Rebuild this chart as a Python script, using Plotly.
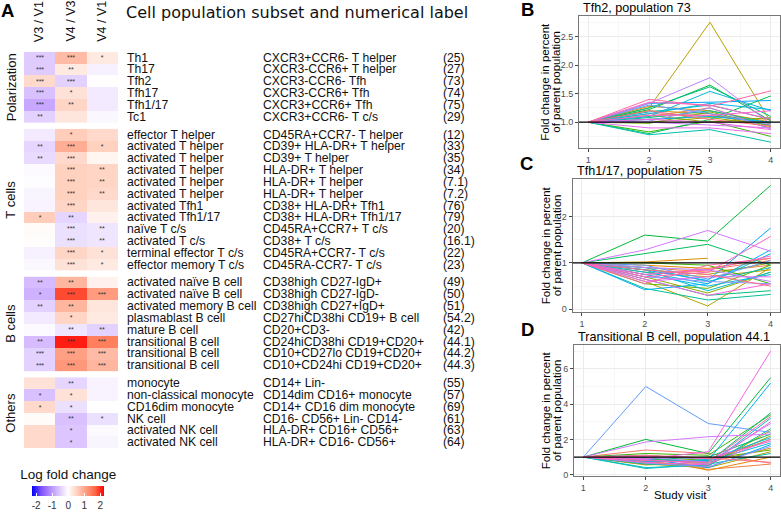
import math
import plotly.graph_objects as go

W, H = 781, 514

# ---------------- heatmap data ----------------
COLUMNS = ["V3 / V1", "V4 / V3", "V4 / V1"]
GROUPS = ["Polarization", "T cells", "B cells", "Others"]

POL_NAMES = ["Th1", "Th17", "Tfh2", "Tfh17", "Tfh1/17", "Tc1"]
POL_MARKERS = ["CXCR3+CCR6- T helper", "CXCR3-CCR6+ T helper", "CXCR3-CCR6- Tfh",
               "CXCR3-CCR6+ Tfh", "CXCR3+CCR6+ Tfh", "CXCR3+CCR6- T c/s"]
POL_IDS = ["(25)", "(27)", "(73)", "(74)", "(75)", "(29)"]
POL_LFC = [[-0.50, 0.80, 0.25], [-0.50, 0.25, -0.15], [0.45, -0.45, 0.02],
           [-0.60, 0.35, -0.20], [-0.85, 0.50, -0.20], [-0.45, 0.30, -0.08]]
POL_STARS = [["***", "***", "*"], ["***", "**", ""], ["***", "***", ""],
             ["***", "*", ""], ["***", "**", ""], ["**", "", ""]]

T_NAMES = ["effector T helper", "activated T helper", "activated T helper",
           "activated T helper", "activated T helper", "activated T helper",
           "activated Tfh1", "activated Tfh1/17", "naïve T c/s", "activated T c/s",
           "terminal effector T c/s", "effector memory T c/s"]
T_MARKERS = ["CD45RA+CCR7- T helper", "CD39+ HLA-DR+ T helper", "CD39+ T helper",
             "HLA-DR+ T helper", "HLA-DR+ T helper", "HLA-DR+ T helper",
             "CD38+ HLA-DR+ Tfh1", "CD38+ HLA-DR+ Tfh1/17", "CD45RA+CCR7+ T c/s",
             "CD38+ T c/s", "CD45RA+CCR7- T c/s", "CD45RA-CCR7- T c/s"]
T_IDS = ["(12)", "(33)", "(35)", "(34)", "(7.1)", "(7.2)", "(76)", "(79)",
         "(20)", "(16.1)", "(22)", "(23)"]
T_LFC = [[-0.20, 0.60, 0.45], [-0.40, 0.95, 0.55], [-0.35, 0.45, 0.12],
         [-0.05, 0.55, 0.50], [-0.03, 0.55, 0.50], [-0.10, 0.55, 0.45],
         [-0.12, 0.50, 0.30], [0.60, -0.40, 0.15], [0.05, -0.30, -0.25],
         [0.03, -0.30, -0.25], [-0.15, 0.50, 0.35], [-0.08, 0.35, 0.25]]
T_STARS = [["", "*", ""], ["**", "***", "*"], ["**", "***", ""],
           ["", "***", "**"], ["", "***", "**"], ["", "***", "**"],
           ["", "***", ""], ["*", "**", ""], ["", "***", "**"],
           ["", "***", "**"], ["", "***", "*"], ["", "***", "*"]]

B_NAMES = ["activated naïve B cell", "activated naïve B cell", "activated memory B cell",
           "plasmablast B cell", "mature B cell", "transitional B cell",
           "transitional B cell", "transitional B cell"]
B_MARKERS = ["CD38high CD27-IgD+", "CD38high CD27-IgD-", "CD38high CD27+IgD+",
             "CD27hiCD38hi CD19+ B cell", "CD20+CD3-", "CD24hiCD38hi CD19+CD20+",
             "CD10+CD27lo CD19+CD20+", "CD10+CD24hi CD19+CD20+"]
B_IDS = ["(49)", "(50)", "(51)", "(54.2)", "(42)", "(44.1)", "(44.2)", "(44.3)"]
B_LFC = [[-0.65, 0.85, 0.15], [-0.75, 1.85, 1.15], [-0.45, 0.85, 0.30],
         [-0.20, 0.50, 0.25], [-0.05, -0.25, -0.45], [-0.65, 2.10, 1.45],
         [-0.45, 1.10, 0.80], [-0.45, 1.20, 0.85]]
B_STARS = [["**", "**", ""], ["*", "***", "***"], ["**", "**", ""],
           ["", "*", ""], ["", "**", "**"], ["**", "***", "***"],
           ["***", "***", "***"], ["***", "***", "***"]]

O_NAMES = ["monocyte", "non-classical monocyte", "CD16dim monocyte", "NK cell",
           "activated NK cell", "activated NK cell"]
O_MARKERS = ["CD14+ Lin-", "CD14dim CD16+ monocyte", "CD14+ CD16 dim monocyte",
             "CD16- CD56+ Lin- CD14-", "HLA-DR+ CD16+ CD56+", "HLA-DR+ CD16- CD56+"]
O_IDS = ["(55)", "(57)", "(69)", "(61)", "(63)", "(64)"]
O_LFC = [[0.35, -0.40, -0.12], [-0.60, 0.35, -0.12], [0.45, -0.30, 0.0],
         [0.05, -0.60, -0.30], [0.45, -0.55, -0.05], [0.45, -0.55, -0.10]]
O_STARS = [["", "**", ""], ["*", "*", ""], ["*", "*", ""],
           ["", "**", "*"], ["", "*", ""], ["", "*", ""]]

COLORBAR_TICKS = [-2, -1, 0, 1, 2]
COLOR_LIMITS = [-2.25, 2.25]

# ---------------- line panel data (fold change, visits 1-4) ----------------
VISITS = [1, 2, 3, 4]
REF_LEVEL = 1.0

TFH2_73 = [
    [1, 1.15, 1.12, 0.97], [1, 1.10, 1.25, 0.92], [1, 1.28, 1.20, 1.00], [1, 1.05, 1.10, 1.05],
    [1, 1.20, 1.15, 0.90], [1, 1.25, 2.75, 1.00], [1, 1.00, 1.08, 0.95], [1, 1.12, 1.00, 1.08],
    [1, 0.98, 1.18, 0.93], [1, 0.83, 1.02, 0.75], [1, 1.22, 1.65, 1.02], [1, 0.80, 1.05, 1.46],
    [1, 1.25, 1.62, 1.10], [1, 1.08, 1.20, 0.98], [1, 0.78, 0.87, 0.65], [1, 1.18, 1.30, 1.05],
    [1, 1.10, 1.54, 1.20], [1, 1.15, 1.33, 1.22], [1, 1.05, 1.10, 1.00], [1, 1.33, 1.35, 1.38],
    [1, 1.30, 1.15, 0.95], [1, 1.02, 1.25, 0.88], [1, 1.33, 1.78, 0.97], [1, 1.00, 0.95, 0.90],
    [1, 0.90, 0.90, 0.80], [1, 1.05, 1.00, 0.87], [1, 1.12, 1.12, 1.20], [1, 1.35, 1.30, 1.05],
    [1, 1.40, 1.28, 1.55], [1, 1.20, 1.05, 0.93],
]
TFH117_75 = [
    [1, 0.75, 0.85, 1.05], [1, 0.90, 0.80, 0.95], [1, 0.95, 0.88, 1.10], [1, 1.02, 1.10, None],
    [1, 0.80, 0.70, 0.85], [1, 0.60, 0.07, 0.90], [1, 0.85, 0.75, 1.00], [1, 0.70, 0.35, 0.80],
    [1, 0.55, 0.45, 0.95], [1, 1.00, 0.95, 0.55], [1, 1.60, 1.47, 2.67], [1, 1.20, 1.40, 0.95],
    [1, 0.65, 0.30, 0.40], [1, 0.45, 0.20, 0.32], [1, 0.90, 0.60, 0.90], [1, 0.85, 0.40, 0.80],
    [1, 0.80, 0.55, 1.20], [1, 0.75, 0.50, 0.75], [1, 0.42, 0.55, 1.28], [1, 0.85, 0.62, 1.75],
    [1, 0.95, 0.65, 1.05], [1, 0.70, 0.60, 0.55], [1, 0.90, 0.85, 0.60], [1, 1.28, 1.70, 1.25],
    [1, 0.60, 0.70, 0.70], [1, 0.65, 0.30, 0.55], [1, 0.75, 0.85, 1.15], [1, 0.70, 0.80, 1.57],
    [1, 0.55, 0.95, 1.10], [1, 0.85, 0.75, 0.50],
]
TRANSB_441 = [
    [1, 1.40, 1.20, 0.65], [1, 0.80, 0.30, 0.60], [1, 1.00, 0.25, 1.00], [1, 0.65, 0.50, 2.50],
    [1, 0.55, 0.70, 1.50], [1, 0.60, 0.40, 1.30], [1, 0.70, 0.80, 2.00], [1, 0.90, 0.60, 2.20],
    [1, 0.75, 0.90, 1.40], [1, 1.20, 1.10, 3.40], [1, 2.00, 1.20, 5.50], [1, 0.85, 1.00, 2.30],
    [1, 0.95, 0.70, 3.50], [1, 0.60, 0.50, 2.60], [1, 0.35, 0.60, 1.20], [1, 0.40, 0.55, 3.20],
    [1, 0.80, 0.75, 1.80], [1, 1.10, 0.85, 2.10], [1, 0.75, 0.80, 5.20], [1, 0.90, 0.40, 1.70],
    [1, 5.00, 2.90, 2.40], [1, 0.65, 0.45, 1.60], [1, 1.00, 0.70, 2.90], [1, 1.85, 2.15, 2.30],
    [1, 0.85, 0.60, 2.00], [1, 0.90, 1.30, 7.00], [1, 0.70, 0.55, 3.00], [1, 1.05, 0.90, 1.90],
    [1, 0.80, 0.70, 3.30], [1, 1.10, 0.95, 0.70],
]
PANEL_TITLES = ["Tfh2, population 73", "Tfh1/17, population 75",
                "Transitional B cell, population 44.1"]
PANEL_TICK_STEP = [0.5, 1, 2]

# ---------------- helpers ----------------
def px(xp):
    return xp / W

def py(yp):
    return 1 - yp / H

def hcl_hex(h, c=100, l=65):
    Xn, Yn, Zn = 0.95047, 1.0, 1.08883
    un = 4 * Xn / (Xn + 15 * Yn + 3 * Zn)
    vn = 9 * Yn / (Xn + 15 * Yn + 3 * Zn)
    Y = ((l + 16) / 116) ** 3
    hr = math.radians(h)
    u, v = c * math.cos(hr), c * math.sin(hr)
    up = u / (13 * l) + un
    vp = v / (13 * l) + vn
    X = Y * 9 * up / (4 * vp)
    Z = Y * (12 - 3 * up - 20 * vp) / (4 * vp)
    rgb = [3.2406 * X - 1.5372 * Y - 0.4986 * Z,
           -0.9689 * X + 1.8758 * Y + 0.0415 * Z,
           0.0557 * X - 0.2040 * Y + 1.0570 * Z]
    out = []
    for ch in rgb:
        ch = 12.92 * ch if ch <= 0.0031308 else 1.055 * ch ** (1 / 2.4) - 0.055
        out.append(int(round(max(0, min(1, ch)) * 255)))
    return "#%02X%02X%02X" % tuple(out)

COLORSCALE = [[0.0, "#0000FF"], [0.125, "#7E51FF"], [0.25, "#B38BFF"], [0.375, "#DCC5FF"],
              [0.5, "#FFFFFF"], [0.625, "#FFD0BE"], [0.75, "#FF9E82"], [0.875, "#FF6846"],
              [1.0, "#FF0000"]]

LABEL_FONT = "Liberation Sans, Arial, sans-serif"
fig = go.Figure()
annotations = []
shapes = []
layout = dict()

# ---------------- heatmap blocks ----------------
blocks = [(POL_NAMES, POL_MARKERS, POL_IDS, POL_LFC, POL_STARS),
          (T_NAMES, T_MARKERS, T_IDS, T_LFC, T_STARS),
          (B_NAMES, B_MARKERS, B_IDS, B_LFC, B_STARS),
          (O_NAMES, O_MARKERS, O_IDS, O_LFC, O_STARS)]
HM_LEFT, HM_RIGHT = 24, 118
HM_TOP, ROW_H, GAP = 53, 12.1, 6.2

layout["xaxis"] = dict(domain=[px(HM_LEFT), px(HM_RIGHT)], range=[-0.5, 2.5],
                       visible=False, anchor="y", fixedrange=True)
top = HM_TOP
for bi, (names, markers, ids, lfc, stars) in enumerate(blocks):
    n = len(names)
    bottom = top + n * ROW_H
    yname = "yaxis" if bi == 0 else "yaxis%d" % (bi + 1)
    yref = "y" if bi == 0 else "y%d" % (bi + 1)
    layout[yname] = dict(domain=[py(bottom), py(top)], range=[n - 0.5, -0.5],
                         visible=False, anchor="x", fixedrange=True)
    trace = go.Heatmap(
        z=lfc, x=list(range(len(COLUMNS))), y=list(range(n)),
        text=stars, texttemplate="%{text}",
        textfont=dict(size=7, color="#333333", family=LABEL_FONT),
        colorscale=COLORSCALE, zmin=COLOR_LIMITS[0], zmax=COLOR_LIMITS[1],
        showscale=(bi == 0), xaxis="x", yaxis=yref, hoverinfo="skip",
    )
    if bi == 0:
        trace.colorbar = dict(
            orientation="h", x=px(68.2), xanchor="center", y=py(482.5), yanchor="top",
            lenmode="pixels", len=72, thicknessmode="pixels", thickness=10,
            xpad=0, ypad=0, outlinewidth=0,
            tickvals=COLORBAR_TICKS, ticktext=[str(t) for t in COLORBAR_TICKS],
            ticks="inside", ticklen=3, tickcolor="white", tickwidth=1,
            tickfont=dict(size=10, color="#333333", family=LABEL_FONT),
            title=dict(text="Log fold change", side="top",
                       font=dict(size=13.5, color="#111111", family=LABEL_FONT)),
        )
    fig.add_trace(trace)
    for ri in range(n):
        for col_x, txt in ((126, names[ri]), (262, markers[ri]), (442, ids[ri])):
            annotations.append(dict(x=px(col_x), xref="paper", y=ri, yref=yref,
                                    text=txt, showarrow=False, xanchor="left",
                                    yanchor="middle", borderpad=0,
                                    font=dict(size=12.2, color="#111111", family=LABEL_FONT)))
    annotations.append(dict(x=px(11), xref="paper", y=py((top + bottom) / 2), yref="paper",
                            text=GROUPS[bi], textangle=-90, showarrow=False,
                            xanchor="center", yanchor="middle", borderpad=0,
                            font=dict(size=13, color="#111111", family=LABEL_FONT)))
    top = bottom + GAP

for ci, col in enumerate(COLUMNS):
    annotations.append(dict(x=ci, xref="x", y=py(44), yref="paper", text=col,
                            textangle=-90, showarrow=False, xanchor="center",
                            yanchor="bottom", borderpad=0,
                            font=dict(size=12.5, color="#111111", family=LABEL_FONT)))

annotations.append(dict(x=px(124), xref="paper", y=py(12.5), yref="paper",
                        text="Cell population subset and numerical label",
                        showarrow=False, xanchor="left", yanchor="middle",
                        font=dict(size=16, color="#111111", family="DejaVu Sans")))

# panel letters
for letter, cx, cy in (("A", 7.5, 10.5), ("B", 527.5, 10), ("C", 526.5, 167.5), ("D", 527.5, 337.5)):
    annotations.append(dict(x=px(cx), xref="paper", y=py(cy), yref="paper",
                            text="<b>%s</b>" % letter, showarrow=False,
                            xanchor="center", yanchor="middle", borderpad=0,
                            font=dict(size=18.5, color="#000000", family=LABEL_FONT)))

# ---------------- line panels ----------------
N_SUBJ = len(TFH2_73)
PALETTE = [hcl_hex(15 + 360 * i / N_SUBJ) for i in range(N_SUBJ)]
panels = [(TFH2_73, 579, 16.7, 151.7), (TFH117_75, 572.5, 183.7, 319.5),
          (TRANSB_441, 574, 353.5, 487.6)]
for pi, (data, left, ptop, pbottom) in enumerate(panels):
    k = 5 + pi
    xa, ya = "x%d" % k, "y%d" % k
    for si, series in enumerate(data):
        fig.add_trace(go.Scatter(x=VISITS, y=series, mode="lines",
                                 line=dict(color=PALETTE[si], width=1),
                                 xaxis=xa, yaxis=ya, hoverinfo="skip",
                                 connectgaps=False, showlegend=False))
    vals = [v for s in data for v in s if v is not None]
    vmin, vmax = min(vals), max(vals)
    pad = 0.05 * (vmax - vmin)
    step = PANEL_TICK_STEP[pi]
    axis_common = dict(showgrid=True, gridcolor="#EBEBEB", gridwidth=1, zeroline=False,
                       showline=True, mirror=True, linecolor="#777777", linewidth=1,
                       ticks="outside", ticklen=3, tickcolor="#444444", tickwidth=1,
                       tickfont=dict(size=9, color="#4D4D4D", family=LABEL_FONT),
                       fixedrange=True)
    layout["xaxis%d" % k] = dict(domain=[px(left), px(780)], range=[0.85, 4.15],
                                 tickvals=VISITS, anchor=ya,
                                 minor=dict(tickvals=[1.5, 2.5, 3.5], showgrid=True,
                                            gridcolor="#F2F2F2", gridwidth=0.6, ticks=""),
                                 **axis_common)
    layout["yaxis%d" % k] = dict(domain=[py(pbottom), py(ptop)],
                                 range=[vmin - pad, vmax + pad], dtick=step, tick0=0,
                                 tickformat=".1f" if step < 1 else "d", anchor=xa,
                                 minor=dict(dtick=step / 2, tick0=0, showgrid=True,
                                            gridcolor="#F2F2F2", gridwidth=0.6, ticks=""),
                                 **axis_common)
    shapes.append(dict(type="line", xref="%s domain" % xa, x0=0, x1=1, yref=ya,
                       y0=REF_LEVEL, y1=REF_LEVEL, line=dict(color="black", width=1.3),
                       layer="above"))
    annotations.append(dict(x=px(left + 3), xref="paper", y=py(ptop - 8.5), yref="paper",
                            text=PANEL_TITLES[pi], showarrow=False, xanchor="left",
                            yanchor="middle", borderpad=0,
                            font=dict(size=12.6, color="#000000", family=LABEL_FONT)))
    for line_txt, cx in (("Fold change in percent", 545.5), ("of parent population", 556.5)):
        annotations.append(dict(x=px(cx), xref="paper", y=0.5, yref="%s domain" % ya,
                                text=line_txt, textangle=-90, showarrow=False,
                                xanchor="center", yanchor="middle", borderpad=0,
                                font=dict(size=11.5, color="#000000", family=LABEL_FONT)))

annotations.append(dict(x=px(680), xref="paper", y=py(506.5), yref="paper",
                        text="Study visit", showarrow=False, xanchor="center",
                        yanchor="middle", borderpad=0,
                        font=dict(size=11.5, color="#000000", family=LABEL_FONT)))

fig.update_layout(
    width=W, height=H, margin=dict(l=0, r=0, t=0, b=0),
    paper_bgcolor="white", plot_bgcolor="white", showlegend=False,
    font=dict(family=LABEL_FONT, color="#111111"),
    annotations=annotations, shapes=shapes, **layout,
)
fig.write_html("out.html", config={"displayModeBar": False, "staticPlot": True},
               post_script="document.body.style.margin='0';document.body.style.padding='0';")
